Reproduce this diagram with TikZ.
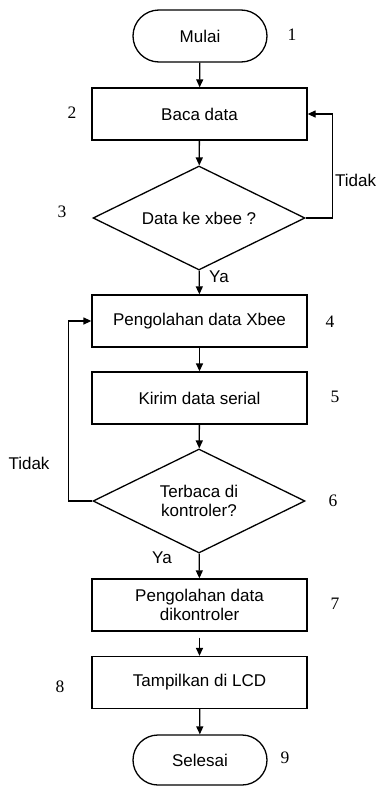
\documentclass[tikz,border=0pt]{standalone}
\usepackage{fontspec}
\setmainfont{Liberation Serif}
\newfontfamily\arialf{Liberation Sans}
\usetikzlibrary{shapes.geometric,shapes.misc,arrows.meta}
\begin{document}
\begin{tikzpicture}[x=1pt,y=-1pt,
  every node/.style={inner sep=0pt},
  lbl/.style={font=\arialf\fontsize{17}{19.5}\selectfont, align=center},
  procbox/.style={lbl, draw, line width=1.3pt, minimum width=215pt, minimum height=52pt},
  term/.style={lbl, draw, rounded rectangle, line width=1.3pt, minimum width=134pt, minimum height=52pt},
  decision/.style={lbl, draw, diamond, aspect=2, line width=1.3pt, minimum width=212pt, minimum height=104pt},
  num/.style={font=\fontsize{17.5}{20}\selectfont},
  flow/.style={line width=1.3pt, -{Triangle[length=8pt,width=7pt]}},
]
\useasboundingbox[fill=white] (0,0) rectangle (376,787);

\node[term] (start) at (200,36) {Mulai};
\node[procbox] (b2) at (199.5,114) {Baca data};
\node[decision] (d3) at (199,218) {Data ke xbee ?};
\node[procbox] (b4) at (199.5,321) {Pengolahan data Xbee};
\node[procbox] (b5) at (199.5,398) {Kirim data serial};
\node[decision] (d6) at (199,501) {Terbaca di\\kontroler?};
\node[procbox] (b7) at (199.5,605) {Pengolahan data\\dikontroler};
\node[procbox] (b8) at (199.5,682.5) {Tampilkan di LCD};
\node[term, minimum height=50pt] (stop) at (200,760) {Selesai};

\node[num] (n1) at (292,35) {1};
\node[num] (n2) at (72,113) {2};
\node[num] (n3) at (62,212) {3};
\node[num] (n4) at (330,322) {4};
\node[num] (n5) at (335,397) {5};
\node[num] (n6) at (333,501) {6};
\node[num] (n7) at (335,604) {7};
\node[num] (n8) at (60,687) {8};
\node[num] (n9) at (285,758) {9};

\node[lbl, anchor=west] (t3) at (335,180) {Tidak};
\node[lbl, anchor=west] (y3) at (209,277) {Ya};
\node[lbl] (t6) at (29,463) {Tidak};
\node[lbl] (y6) at (162,558) {Ya};

\draw[flow] (start) -- (b2);
\draw[flow] (b2) -- (d3);
\draw[flow] (d3) -- (b4);
\draw[flow] (b4) -- (b5);
\draw[flow] (b5) -- (d6);
\draw[flow] (d6) -- (b7);
\draw[flow, shorten <=6pt] (b7) -- (b8);
\draw[flow] (b8) -- (stop);
\draw[flow] (d3.east) -- ++(27,0) |- (b2.east);
\draw[flow] (d6.west) -- ++(-24,0) |- (b4.west);
\end{tikzpicture}
\end{document}
